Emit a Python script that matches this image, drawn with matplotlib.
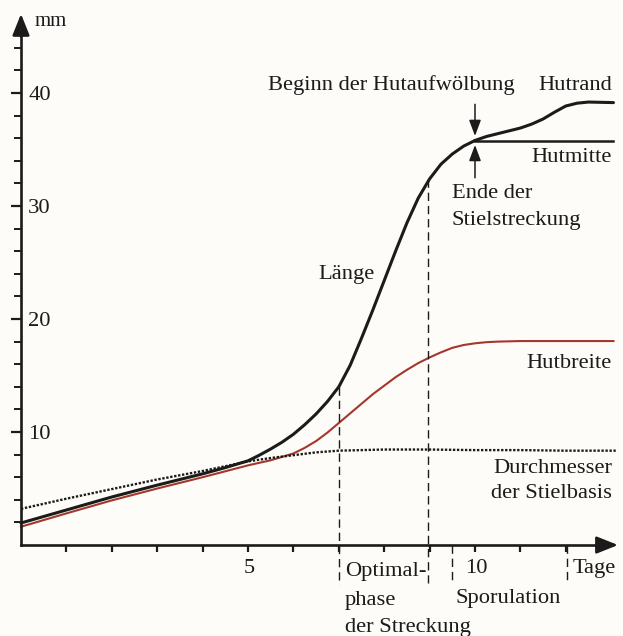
"""Wachstum des Fruchtkörpers (Länge, Hutbreite, Stielbasis) über die Tage."""
import matplotlib
matplotlib.use("Agg")
import matplotlib.pyplot as plt

# --- Daten ---
laenge_x = [0, 1, 2, 3, 4, 4.5, 5, 5.25, 5.5, 5.75, 6, 6.25, 6.5, 6.75, 7, 7.25,
            7.5, 7.75, 8, 8.25, 8.5, 8.75, 9, 9.25, 9.5, 9.75, 10]
laenge_y = [1.95, 3.1, 4.25, 5.3, 6.3, 6.85, 7.45, 7.95, 8.5, 9.1, 9.8, 10.65,
            11.6, 12.7, 14.0, 15.9, 18.3, 20.8, 23.4, 26.0, 28.5, 30.7, 32.4,
            33.7, 34.6, 35.3, 35.8]

hutrand_x = [10, 10.25, 10.5, 10.75, 11, 11.25, 11.5, 11.75, 12, 12.25, 12.5, 13.05]
hutrand_y = [35.8, 36.15, 36.4, 36.65, 36.9, 37.25, 37.7, 38.3, 38.85, 39.1, 39.2, 39.15]

hutmitte_x = [10, 13.05]
hutmitte_y = [35.75, 35.75]

breite_x = [0, 1, 2, 3, 4, 5, 5.5, 6, 6.25, 6.5, 6.75, 7, 7.25, 7.5, 7.75, 8,
            8.25, 8.5, 8.75, 9, 9.25, 9.5, 9.75, 10, 10.25, 10.5, 11, 12, 13.05]
breite_y = [1.62, 2.8, 3.95, 5.0, 6.0, 7.05, 7.5, 8.1, 8.6, 9.2, 9.95, 10.8,
            11.65, 12.5, 13.35, 14.1, 14.85, 15.5, 16.1, 16.6, 17.05, 17.45,
            17.7, 17.85, 17.95, 18.0, 18.05, 18.05, 18.05]

basis_x = [0, 1, 2, 3, 4, 5, 5.5, 6, 6.5, 7, 8, 9, 10, 11, 12, 13.1]
basis_y = [3.2, 4.1, 4.95, 5.8, 6.55, 7.4, 7.7, 7.95, 8.2, 8.35, 8.45, 8.45,
           8.4, 8.4, 8.35, 8.35]

y_labels = [10, 20, 30, 40]
x_labels = [5, 10]
tage_ticks = list(range(1, 13))
mm_minor = list(range(2, 46, 2))

# Phasen-Markierungen
optimal_start, optimal_ende = 7.0, 8.96
sporulation = [9.5, 12.03]

INK = "#1b1b1b"
RED = "#a5362c"
FONT = ["Liberation Serif", "DejaVu Serif"]
plt.rcParams["font.family"] = FONT

fig = plt.figure(figsize=(6.23, 6.36), dpi=100, facecolor="#fdfcf8")
ax = fig.add_axes([0, 0, 1, 1])
ax.set_facecolor("#fdfcf8")
ax.set_xlim(-0.4626, 13.26)
ax.set_ylim(-8.05, 48.23)

# --- Achsen ---
for s in ["top", "right"]:
    ax.spines[s].set_visible(False)
ax.spines["left"].set_position(("data", 0))
ax.spines["bottom"].set_position(("data", 0))
ax.spines["left"].set_bounds(0, 46)
ax.spines["bottom"].set_bounds(0, 12.9)
for s in ["left", "bottom"]:
    ax.spines[s].set_linewidth(1.9)
    ax.spines[s].set_color(INK)

ax.set_xticks(tage_ticks, [""] * len(tage_ticks))
ax.set_yticks(y_labels, [""] * len(y_labels))
ax.set_yticks(mm_minor, minor=True)
ax.tick_params(axis="x", direction="out", length=5, width=1.6, color=INK)
ax.tick_params(axis="y", which="major", direction="out", length=7, width=1.6, color=INK)
ax.tick_params(axis="y", which="minor", direction="out", length=5, width=1.4, color=INK)

arrow_kw = dict(arrowstyle="-|>,head_length=1.0,head_width=0.4", mutation_scale=13,
                color=INK, lw=1.9, shrinkA=0, shrinkB=0)
ax.annotate("", xy=(0, 47.0), xytext=(0, 45), arrowprops=arrow_kw)
ax.annotate("", xy=(13.15, 0), xytext=(12.8, 0), arrowprops=arrow_kw)

# --- Kurven ---
ax.plot(laenge_x, laenge_y, color=INK, lw=2.2, solid_capstyle="round",
        solid_joinstyle="round")
ax.plot(hutrand_x, hutrand_y, color=INK, lw=2.2, solid_capstyle="round",
        solid_joinstyle="round")
ax.plot(hutmitte_x, hutmitte_y, color=INK, lw=1.8)
ax.plot(breite_x, breite_y, color=RED, lw=1.5, solid_joinstyle="round")
ax.plot(basis_x, basis_y, color=INK, lw=1.7, linestyle=(0, (1, 0.7)))

# --- gestrichelte Phasenlinien ---
dash = dict(color=INK, lw=1.0, linestyle=(0, (6, 3.5)))
ax.plot([optimal_start, optimal_start], [14.0, -3.5], **dash)
ax.plot([optimal_ende, optimal_ende], [32.4, -3.4], **dash)
for xs in sporulation:
    ax.plot([xs, xs], [0, -3.4], **dash)

# Pfeile Hutaufwölbung / Stielstreckung
pfeil = dict(arrowstyle="-|>,head_length=0.8,head_width=0.3", mutation_scale=12,
             color=INK, lw=1.1, shrinkA=0, shrinkB=0)
ax.annotate("", xy=(10.0, 36.2), xytext=(10.0, 39.0), arrowprops=pfeil)
ax.annotate("", xy=(10.0, 35.4), xytext=(10.0, 32.5), arrowprops=pfeil)

# --- Beschriftung ---
fs = 16.2
txt = dict(color=INK, fontsize=fs, va="center")
ax.text(0.31, 46.3, "mm", color=INK, fontsize=15, va="center")
for v in y_labels:
    ax.text(0.16, v - 0.2, str(v), ha="left", **txt)
for v in x_labels:
    ax.text(v + 0.03, -2.1, str(v), ha="center", **txt)
ax.text(12.14, -2.1, "Tage", ha="left", **txt)

ax.text(7.14, -2.3, "Optimal-", ha="left", **txt)
ax.text(7.14, -4.9, "phase", ha="left", **txt)
ax.text(7.14, -7.3, "der Streckung", ha="left", **txt)
ax.text(9.56, -4.7, "Sporulation", ha="left", **txt)

ax.text(5.44, 40.7, "Beginn der Hutaufwölbung", ha="left", **txt)
ax.text(13.02, 40.7, "Hutrand", ha="right", **txt)
ax.text(13.02, 34.25, "Hutmitte", ha="right", **txt)
ax.text(9.49, 31.15, "Ende der", ha="left", **txt)
ax.text(9.49, 28.75, "Stielstreckung", ha="left", **txt)
ax.text(6.54, 23.9, "Länge", ha="left", **txt)
ax.text(13.02, 16.1, "Hutbreite", ha="right", **txt)
ax.text(13.02, 6.8, "Durchmesser", ha="right", **txt)
ax.text(13.02, 4.6, "der Stielbasis", ha="right", **txt)

fig.savefig("out.png", dpi=100, facecolor=fig.get_facecolor())
